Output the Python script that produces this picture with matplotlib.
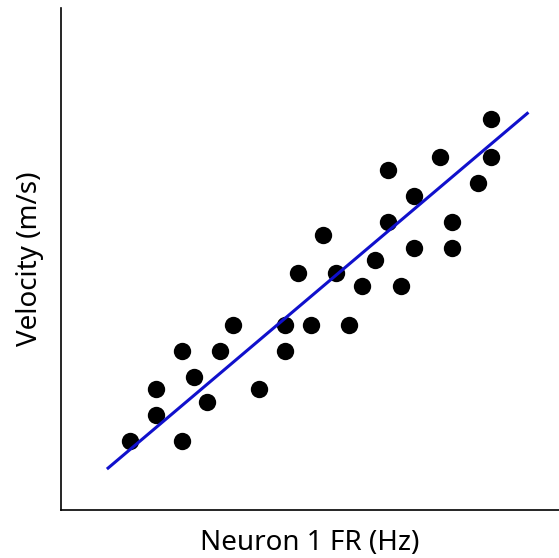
import numpy as np
import matplotlib
matplotlib.use("Agg")
import matplotlib.pyplot as plt

plt.rcParams['font.family'] = ['Noto Sans', 'DejaVu Sans']

# firing rate (arbitrary units) and velocity
fr = [0, 2, 2, 4, 4, 5, 6, 7, 8, 10, 12, 12, 13, 14, 15, 16, 17, 18, 19,
      20, 20, 21, 22, 22, 24, 25, 25, 27, 28, 28]
vel = [0, 2, 4, 0, 7, 5, 3, 7, 9, 4, 9, 7, 13, 9, 16, 13, 9, 12, 14,
       21, 17, 12, 19, 15, 22, 17, 15, 20, 25, 22]
fit_x = [-1.7, 30.8]
fit_y = [-2.1, 25.4]

fig = plt.figure(figsize=(5.59, 5.58), dpi=100)
ax = fig.add_axes([61/559, 48/558, 498/559, 502/558])

ax.plot(fr, vel, 'o', color='black', markersize=12.5, markeredgewidth=0)
ax.plot(fit_x, fit_y, color='#1010cc', linewidth=2.2)

ax.set_xlim(-5.35, 33.26)
ax.set_ylim(-5.35, 33.57)
ax.set_xticks([])
ax.set_yticks([])
ax.spines['top'].set_visible(False)
ax.spines['right'].set_visible(False)
ax.spines['left'].set_linewidth(1.2)
ax.spines['bottom'].set_linewidth(1.2)

ax.set_xlabel('Neuron 1 FR (Hz)', fontsize=20, labelpad=14)
ax.set_ylabel('Velocity (m/s)', fontsize=20, labelpad=12)

plt.savefig('out.png', dpi=100)
